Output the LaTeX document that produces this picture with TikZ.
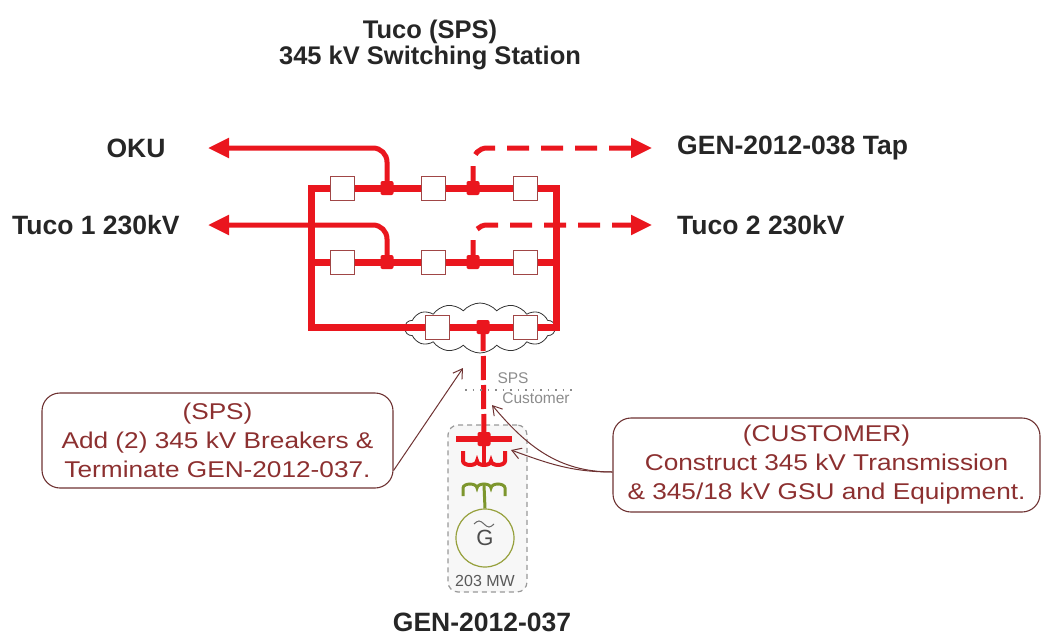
\documentclass[tikz,border=0pt]{standalone}
\usepackage{fontspec}
\setmainfont{Liberation Sans}
\newfontfamily\notefont[FakeStretch=1.15]{Liberation Sans}
\usetikzlibrary{arrows.meta,shapes.symbols}
\definecolor{busred}{RGB}{234,22,30}
\definecolor{brkred}{RGB}{160,70,70}
\definecolor{notered}{RGB}{140,48,48}
\definecolor{noteline}{RGB}{110,50,50}
\definecolor{gengreen}{RGB}{125,150,45}
\definecolor{genring}{RGB}{150,160,60}
\def\drawbus{\draw[draw=busred, line width=7pt]}
\def\brknode{\node[draw=brkred, fill=white, line width=1pt, minimum size=24pt, inner sep=0pt]}
\def\jctnode{\node[fill=busred, minimum width=13pt, minimum height=14pt, inner sep=0pt, rounded corners=2pt]}

\begin{document}
\begin{tikzpicture}[x=1pt,y=1pt,
  feeder/.style={draw=busred, line width=5pt, rounded corners=14pt, -{Triangle[length=21pt,width=19pt]}},
  tapline/.style={feeder, dash pattern=on 22pt off 12pt},
  lbl/.style={inner sep=0pt, text=black!85, font=\bfseries\fontsize{26.5}{28}\selectfont},
  note/.style={draw=noteline, line width=1.1pt, rounded corners=18pt, text=notered, align=center, font=\notefont\fontsize{22.8}{29}\selectfont},
  callout/.style={draw=noteline, line width=1pt, -{Straight Barb[length=9pt,width=11pt]}},
  small/.style={inner sep=0pt, text=black!45, font=\fontsize{15.5}{17}\selectfont}]
\useasboundingbox (0,0) rectangle (1051,-637);

\node[lbl, align=center, font=\bfseries\fontsize{25.5}{26}\selectfont] (title) at (430,-45) {Tuco (SPS)\\345 kV Switching Station};

% cloud round the two new breakers
\node[cloud, draw=black!80, line width=0.8pt, cloud puffs=14, cloud puff arc=100, cloud ignores aspect,
  minimum width=150pt, minimum height=50pt, inner sep=0pt] (cloud) at (480,-328) {};

% -------- line names ---------
\node[lbl] (oku) at (136,-148) {OKU};
\node[lbl, anchor=west] (tuco1) at (12,-225) {Tuco 1 230kV};
\node[lbl, anchor=west] (gen38) at (677,-148) {GEN-2012-038 Tap};
\node[lbl, anchor=west] (tuco2) at (677,-225) {Tuco 2 230kV};
\coordinate (okuend) at (208,-148);
\coordinate (tuco1end) at (208,-225);
\coordinate (gen38end) at (652,-148);
\coordinate (tuco2end) at (652,-225);

% -------- ring bus ---------
\coordinate (j11) at (387,-188); % OKU tap
\coordinate (j12) at (473,-188); % GEN-2012-038 tap
\coordinate (j21) at (387,-262); % Tuco 1 tap
\coordinate (j22) at (473,-262); % Tuco 2 tap
\coordinate (j31) at (483,-327); % new terminal
\draw[feeder] (j11) |- (okuend);
\draw[feeder] (j21) |- (tuco1end);
\draw[tapline] (j12) |- (gen38end);
\draw[tapline] (j22) |- (tuco2end);
\drawbus (311,-188) rectangle (556,-327);
\drawbus (311,-262) -- (556,-262);

% -------- generator ---------
\node[draw=black!40, fill=black!3, line width=1.2pt, dash pattern=on 5pt off 4pt, rounded corners=10pt,
  minimum width=79pt, minimum height=167pt] (genbox) at (487.5,-508.5) {};
\coordinate (gl) at (456,-439);
\coordinate (gr) at (512,-439);
\coordinate (gj) at (484,-439);
\draw[draw=busred, line width=5pt, dash pattern=on 24pt off 5pt] (j31) -- (gj);
\draw[draw=busred, line width=6pt] (gl) -- (gr);
\draw[draw=busred, line width=4pt] (gj) -- (484,-464);
\draw[draw=busred, line width=4pt] (463,-451) -- (463,-461)
  arc[start angle=180,end angle=360,x radius=7,y radius=4] arc[start angle=180,end angle=360,x radius=7,y radius=4]
  arc[start angle=180,end angle=360,x radius=7,y radius=4] -- (505,-451);
\draw[draw=gengreen, line width=3pt] (463,-496) -- (463,-488)
  arc[start angle=180,end angle=0,x radius=7,y radius=4] arc[start angle=180,end angle=0,x radius=7,y radius=4]
  arc[start angle=180,end angle=0,x radius=7,y radius=4] -- (505,-496);
\node[circle, draw=genring, line width=1.2pt, minimum size=58pt, inner sep=0pt, text=black!70,
  font=\fontsize{22}{24}\selectfont] (gen) at (485,-538) {G};
\draw[draw=gengreen, line width=3pt] (484,-485) -- (gen.north);
\draw[black!60, line width=1pt] (474,-524) sin (479,-521) cos (484,-524) sin (489,-527) cos (494,-524);
\node[small, text=black!65, font=\fontsize{16}{18}\selectfont] (mw) at (485,-581) {203 MW};
\node[lbl] (gen37) at (482,-622) {GEN-2012-037};

% -------- breakers and taps ---------
\brknode (b11) at (342,-188) {};
\brknode (b12) at (433,-188) {};
\brknode (b13) at (525,-188) {};
\brknode (b21) at (342,-262) {};
\brknode (b22) at (433,-262) {};
\brknode (b23) at (525,-262) {};
\brknode (b31) at (437,-327) {}; % new
\brknode (b32) at (525,-327) {}; % new
\jctnode at (j11) {};
\jctnode at (j12) {};
\jctnode at (j21) {};
\jctnode at (j22) {};
\jctnode at (j31) {};
\jctnode at (gj) {};

% ownership split
\node[small] (sps) at (513,-378) {SPS};
\node[small] (cust) at (536,-398) {Customer};
\draw[black!45, line width=1.5pt, dash pattern=on 1.5pt off 6pt] (465,-390) -- (573,-390);

% -------- notes ---------
\node[note, minimum width=351pt, minimum height=95pt] (noteL) at (217.5,-440.5)
  {(SPS)\\Add (2) 345 kV Breakers \&\\Terminate GEN-2012-037.};
\node[note, minimum width=427pt, minimum height=94pt] (noteR) at (826.5,-465)
  {(CUSTOMER)\\Construct 345 kV Transmission\\\& 345/18 kV GSU and Equipment.};
\coordinate (cloudtip) at (463,-368);
\coordinate (custtip) at (492,-405);
\coordinate (gsutip) at (511,-450);
\draw[callout] ([yshift=-30pt]noteL.east) -- (cloudtip);
\draw[callout] ([yshift=-7pt]noteR.west) to[out=180,in=-50] (custtip);
\draw[callout] ([yshift=-7pt]noteR.west) to[out=180,in=-20] (gsutip);
\end{tikzpicture}
\end{document}
